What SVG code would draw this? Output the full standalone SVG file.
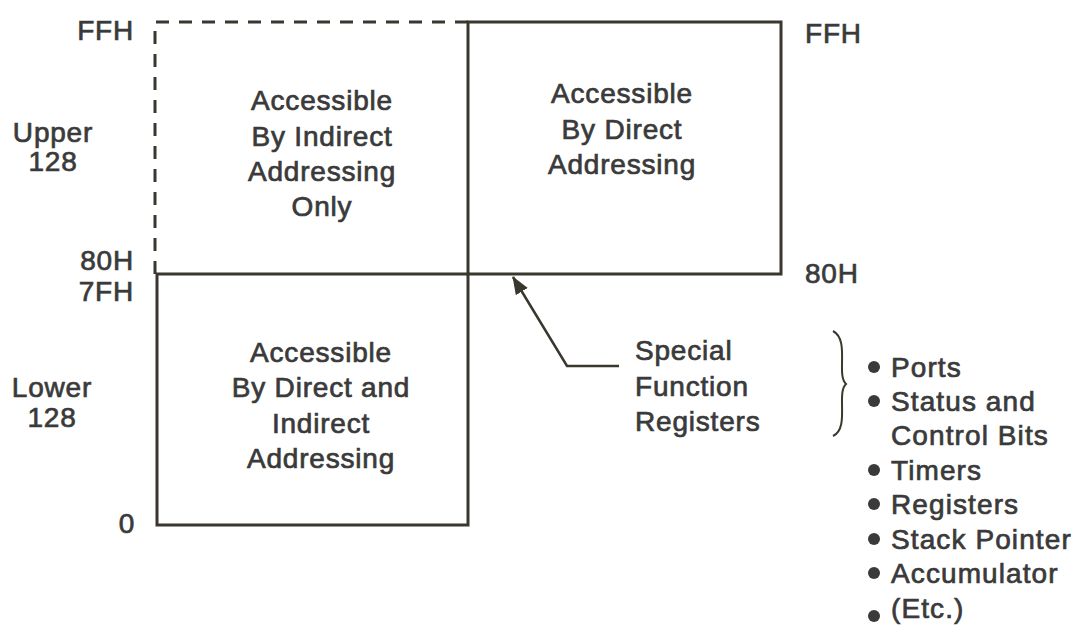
<svg xmlns="http://www.w3.org/2000/svg" width="1083" height="630" viewBox="0 0 1083 630">
<style>
text{font-family:"Liberation Sans",Arial,Helvetica,sans-serif;font-size:28px;fill:#3a3a3a;stroke:#3a3a3a;stroke-width:0.7px;letter-spacing:0.8px}
.c{text-anchor:middle}
.r{text-anchor:end}
.l{letter-spacing:1.1px}
.box{fill:none;stroke:#3a372e;stroke-width:3}
.dash{fill:none;stroke:#3a372e;stroke-width:3;stroke-dasharray:13 10}
.bul{fill:#3a3a3a}
</style>
<defs>
<marker id="ah" markerWidth="18" markerHeight="14" refX="17" refY="7" orient="auto" markerUnits="userSpaceOnUse" viewBox="0 0 18 14">
<path d="M0,0 L18,7 L0,14 z" fill="#3a372e"/>
</marker>
</defs>
<rect width="1083" height="630" fill="#fff"/>
<g id="upper-indirect">
<path class="dash" d="M155,274 V22 H468"/>
<text class="c" x="322" y="110">Accessible</text>
<text class="c" x="322" y="146">By Indirect</text>
<text class="c" x="322" y="181">Addressing</text>
<text class="c" x="322" y="216">Only</text>
</g>
<g id="upper-direct">
<rect class="box" x="468" y="22" width="313" height="252"/>
<text class="c" x="622" y="103">Accessible</text>
<text class="c" x="622" y="139">By Direct</text>
<text class="c" x="622" y="174">Addressing</text>
</g>
<g id="lower">
<rect class="box" x="157" y="274" width="311" height="251"/>
<text class="c" x="321" y="362">Accessible</text>
<text class="c" x="321" y="397">By Direct and</text>
<text class="c" x="321" y="433">Indirect</text>
<text class="c" x="321" y="468">Addressing</text>
</g>
<g id="address-labels">
<text class="r" x="134" y="40">FFH</text>
<text class="c" x="53" y="142">Upper</text>
<text class="c" x="53" y="171">128</text>
<text class="r" x="134" y="270">80H</text>
<text class="r" x="134" y="301">7FH</text>
<text class="c" x="52" y="397">Lower</text>
<text class="c" x="52" y="427">128</text>
<text class="r" x="135" y="533">0</text>
<text x="805" y="43">FFH</text>
<text x="805" y="283">80H</text>
</g>
<g id="sfr-label">
<text x="635" y="360">Special</text>
<text x="635" y="396">Function</text>
<text x="635" y="431">Registers</text>
</g>
<g id="connectors">
<path d="M619,366 H567 L513,277" fill="none" stroke="#3a372e" stroke-width="2.5" marker-end="url(#ah)"/>
<path d="M833,331 C850,340 836,375 846,384 C836,393 850,428 833,436" fill="none" stroke="#3a372e" stroke-width="2"/>
</g>
<g id="sfr-list">
<circle class="bul" cx="874" cy="367" r="6"/><text class="l" x="891" y="377">Ports</text>
<circle class="bul" cx="874" cy="401" r="6"/><text class="l" x="891" y="411">Status and</text>
<text class="l" x="891" y="445">Control Bits</text>
<circle class="bul" cx="874" cy="470" r="6"/><text class="l" x="891" y="480">Timers</text>
<circle class="bul" cx="874" cy="504" r="6"/><text class="l" x="891" y="514">Registers</text>
<circle class="bul" cx="874" cy="539" r="6"/><text class="l" x="891" y="549">Stack Pointer</text>
<circle class="bul" cx="874" cy="573" r="6"/><text class="l" x="891" y="583">Accumulator</text>
<circle class="bul" cx="874" cy="616" r="6"/><text class="l" x="891" y="618">(Etc.)</text>
</g>
</svg>
